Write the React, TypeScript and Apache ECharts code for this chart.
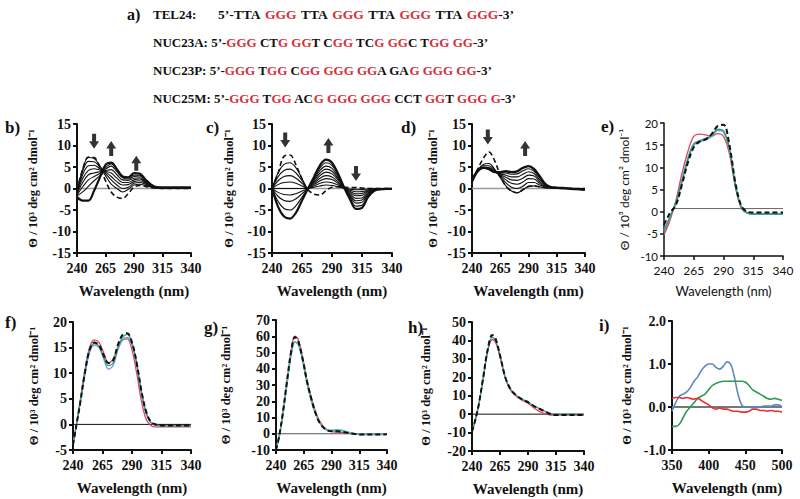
import React, { useEffect, useRef } from "react";
import * as echarts from "echarts";

// ---------- wavelengths ----------
const WL5 = [240, 245, 250, 255, 260, 265, 270, 275, 280, 285, 290, 295, 300, 305, 310, 315, 320, 325, 330, 335, 340];
const WL_E = [240, 245, 250, 255, 260, 265, 270, 275, 280, 285, 290, 295, 300, 305, 310, 315, 320, 330, 340];
const WL_F = [240, 243, 246, 250, 254, 258, 262, 266, 270, 274, 278, 282, 286, 290, 294, 298, 302, 306, 310, 315, 320, 330, 340];
const WL_G = [240, 243, 246, 250, 254, 257, 260, 264, 268, 272, 276, 280, 285, 290, 295, 300, 305, 310, 315, 320, 330, 340];
const WL_H = [240, 243, 246, 250, 254, 258, 261, 265, 270, 275, 280, 285, 290, 295, 300, 305, 310, 315, 320, 330, 340];
const WL_I = [350, 355, 360, 365, 370, 375, 380, 385, 390, 395, 400, 405, 410, 415, 420, 425, 430, 435, 440, 445, 450, 455, 460, 465, 470, 475, 480, 485, 490, 495, 500];

// ---------- panel b (TEL24 titration) ----------
const bDash = [-0.5, 4.5, 7.3, 7.2, 5.0, 1.8, -0.8, -2.0, -2.3, -1.2, 0.3, 0.7, 0.5, 0.2, 0.1, 0, 0, 0, 0, 0, 0];
const b1 = [-0.8, 4.5, 7.2, 7.0, 5.3, 3.0, 1.0, 0.0, -0.8, -0.2, 0.8, 1.0, 0.7, 0.3, 0.1, 0.1, 0.1, 0.1, 0.1, 0.1, 0.1];
const b2 = [-1.0, 4.0, 6.3, 6.2, 5.0, 3.5, 2.0, 0.8, 0.0, 0.3, 1.2, 1.4, 1.0, 0.4, 0.15, 0.1, 0.1, 0.1, 0.1, 0.1, 0.1];
const b3 = [-1.0, 3.2, 5.3, 5.4, 4.6, 3.8, 2.8, 1.6, 0.8, 0.9, 1.6, 1.8, 1.2, 0.5, 0.2, 0.15, 0.1, 0.1, 0.1, 0.1, 0.1];
const b4 = [-1.2, 2.3, 4.2, 4.6, 4.3, 4.0, 3.6, 2.4, 1.4, 1.4, 2.0, 2.2, 1.4, 0.6, 0.2, 0.15, 0.15, 0.15, 0.15, 0.15, 0.15];
const b5 = [-1.3, 1.4, 3.2, 3.6, 3.9, 4.2, 4.4, 3.2, 2.0, 1.9, 2.4, 2.5, 1.6, 0.7, 0.25, 0.2, 0.2, 0.2, 0.2, 0.2, 0.2];
const b6 = [-1.5, 0.4, 2.0, 2.8, 3.5, 4.5, 5.2, 3.9, 2.5, 2.2, 2.8, 2.9, 1.8, 0.8, 0.3, 0.2, 0.2, 0.2, 0.2, 0.2, 0.2];
const b7 = [-1.7, -0.8, 0.5, 1.8, 3.0, 4.8, 5.7, 4.4, 2.8, 2.5, 3.1, 3.1, 2.0, 0.9, 0.3, 0.25, 0.2, 0.2, 0.2, 0.2, 0.2];
const bFinal = [-2.0, -2.8, -2.8, -0.5, 2.5, 5.5, 6.0, 4.5, 2.8, 2.6, 3.6, 3.5, 2.1, 0.9, 0.3, 0.25, 0.25, 0.25, 0.25, 0.25, 0.25];
const bArrowsDown = [[255, 11]];
const bArrowsUp = [[270, 9.3], [292, 5.9]];

// ---------- panel c (NUC23A titration) ----------
const cDash = [0, 3.5, 7.5, 7.8, 5.5, 2.2, -0.3, -1.3, -1.5, -0.5, 0.3, 0.4, 0.3, 0.2, 0.2, 0.1, 0, 0, 0, 0, 0];
const c1 = [0, 3.6, 5.6, 6.0, 4.8, 2.4, 0, 0.3, 0.6, 0.8, 0.7, 0.4, 0.04, -0.15, -0.3, -0.27, -0.12, -0.04, 0, 0, 0];
const c2 = [0, 2.7, 4.2, 4.5, 3.6, 1.8, 0, 0.6, 1.2, 1.5, 1.35, 0.8, 0.1, -0.4, -0.76, -0.72, -0.32, -0.1, -0.03, -0.02, -0.02];
const c3 = [0, 1.8, 2.8, 3.0, 2.4, 1.2, 0, 0.9, 1.8, 2.3, 2.1, 1.2, 0.1, -0.65, -1.24, -1.17, -0.52, -0.16, -0.05, -0.03, -0.03];
const c4 = [0, 0.9, 1.4, 1.5, 1.2, 0.6, 0, 1.2, 2.4, 3.0, 2.7, 1.56, 0.15, -0.9, -1.7, -1.6, -0.72, -0.22, -0.07, -0.04, -0.04];
const c5 = [0, 0, 0, 0, 0, 0, 0, 1.5, 3.0, 3.8, 3.4, 2.0, 0.2, -1.2, -2.3, -2.2, -1.0, -0.3, -0.1, -0.05, -0.05];
const c6 = [0, -0.9, -1.4, -1.5, -1.2, -0.6, 0, 1.8, 3.6, 4.5, 4.0, 2.3, 0.2, -1.5, -2.85, -2.7, -1.2, -0.36, -0.12, -0.06, -0.06];
const c7 = [0, -1.8, -2.8, -3.0, -2.4, -1.2, 0, 2.1, 4.2, 5.2, 4.7, 2.7, 0.26, -1.8, -3.4, -3.2, -1.44, -0.43, -0.14, -0.07, -0.07];
const c8 = [0, -3.0, -4.65, -5.0, -4.0, -2.0, 0, 2.4, 4.8, 6.0, 5.4, 3.1, 0.3, -2.15, -4.1, -3.9, -1.7, -0.5, -0.17, -0.09, -0.09];
const cFinal = [0, -4.2, -6.5, -7.0, -5.6, -2.8, 0, 2.7, 5.4, 6.7, 6.0, 3.5, 0.3, -2.5, -4.75, -4.5, -2.0, -0.6, -0.2, -0.1, -0.1];
const cArrowsDown = [[251, 11.3], [310, 3.5]];
const cArrowsUp = [[287, 10]];

// ---------- panel d (NUC23P titration) ----------
const dDash = [2.2, 4.5, 7.0, 8.5, 6.5, 3.0, 0.5, -0.6, -1.0, -0.3, 0.5, 0.6, 0.4, 0.2, 0.1, 0.05, 0, 0, 0, 0, 0];
const d1 = [2.0, 4.2, 5.6, 5.8, 4.5, 2.5, 0.6, -0.6, -1.0, -0.3, 0.5, 0.6, 0.4, 0.2, 0.1, 0.05, 0, 0, 0, 0, 0];
const d2 = [2.0, 4.3, 5.3, 5.3, 4.3, 2.8, 1.3, 0.3, 0.0, 0.5, 1.4, 1.4, 0.8, 0.3, 0.1, 0.05, 0, 0, 0, 0, 0];
const d3 = [2.0, 4.3, 5.0, 4.9, 4.1, 3.0, 2.0, 1.2, 1.0, 1.5, 2.3, 2.2, 1.2, 0.4, 0.15, 0.05, 0, 0, 0, 0, 0];
const d4 = [1.9, 4.2, 4.9, 4.7, 4.0, 3.2, 2.6, 2.0, 1.9, 2.4, 3.1, 2.9, 1.6, 0.6, 0.2, 0.1, 0, 0, 0, -0.1, -0.1];
const d5 = [1.8, 4.1, 4.8, 4.6, 3.9, 3.4, 3.1, 2.7, 2.7, 3.3, 3.9, 3.5, 2.0, 0.8, 0.25, 0.1, 0, 0, -0.1, -0.1, -0.2];
const d6 = [1.7, 4.0, 4.8, 4.5, 3.8, 3.6, 3.6, 3.3, 3.4, 4.1, 4.6, 4.0, 2.5, 0.9, 0.3, 0.15, 0.05, 0, -0.1, -0.2, -0.2];
const dFinal = [1.6, 4.0, 4.8, 4.5, 3.8, 3.8, 4.0, 3.8, 4.0, 4.8, 5.2, 4.5, 2.8, 1.0, 0.3, 0.2, 0.1, 0, -0.1, -0.2, -0.3];
const dArrowsDown = [[254, 12]];
const dArrowsUp = [[287, 9.3]];

// ---------- panel e ----------
const eRed = [-5.2, -2, 2.5, 8.5, 13.5, 17, 17.5, 17.3, 17, 17.6, 17, 13, 5.5, 0.8, -0.3, -0.5, -0.5, -0.5, -0.5];
const eBlue = [-4.2, -1.2, 1.8, 6.5, 11.5, 15, 15.8, 16.2, 17, 18.3, 18, 14, 6, 1, -0.3, -0.5, -0.5, -0.5, -0.5];
const eGreen = [-4.5, -1.2, 2, 7, 12, 15.3, 16, 16.5, 17.2, 18.6, 18.2, 14.2, 6, 1, -0.3, -0.5, -0.5, -0.5, -0.5];
const eDash = [-3, -0.3, 1.5, 6, 11, 14.5, 15.8, 16.3, 17.5, 19.3, 19.6, 15, 6.5, 1.3, 0, -0.2, -0.2, -0.2, -0.2];
const eBaseline = 0.7;

// ---------- panel f ----------
const fRed = [-4, 0.2, 4.5, 10.5, 15, 16.5, 16, 14, 12, 12.8, 15, 16.5, 16.7, 14.5, 10, 4.5, 1, -0.2, -0.5, -0.5, -0.5, -0.5, -0.5];
const fBlue = [-4, 0, 4, 9.5, 14, 15.5, 15, 12.8, 10.8, 11.5, 14.5, 16.5, 17, 15.5, 11.5, 6, 2, 0.3, -0.2, -0.3, -0.3, -0.3, -0.3];
const fGreen = [-4, 0, 4.2, 10, 14.5, 15.8, 15.3, 13.2, 11.5, 12, 15, 17, 17.6, 16, 12, 6.5, 2.3, 0.4, -0.1, -0.3, -0.3, -0.3, -0.3];
const fDash = [-4, 0, 4, 10, 14.5, 16, 15.5, 13.5, 12, 12.5, 15.5, 17.5, 17.8, 16, 12, 6.5, 2.5, 0.5, 0, -0.2, -0.2, -0.2, -0.2];

// ---------- panel g ----------
const gRed = [-10, -1, 12, 33, 53, 60, 58, 47, 33, 22, 13, 7, 3, 1.5, 1, 0.8, 0.3, 0, -0.5, -0.5, -0.5, -0.3];
const gBlue = [-10, -1.5, 11, 31, 50, 56.5, 55, 45, 31, 20, 11.5, 6, 2.5, 2, 2.3, 1.8, 0.8, 0.1, -0.3, -0.3, -0.3, -0.3];
const gGreen = [-10, -1.5, 11, 31, 50, 56.5, 55, 45, 31, 20, 11.5, 6, 2.5, 2, 2.5, 2, 1, 0.2, -0.3, -0.3, -0.3, -0.3];
const gDash = [-10, -1, 12, 33, 52, 59.5, 57, 46, 32, 21, 12, 6, 2.5, 1.5, 1.5, 1.2, 0.5, 0, -0.5, -0.5, -0.5, -0.3];

// ---------- panel h ----------
const hRed = [-9.5, -3, 5, 19, 34, 40.5, 39, 31, 19, 12.5, 9.5, 7.5, 6, 3.5, 1.5, 0.2, -0.5, -0.5, -0.5, -0.5, -0.5];
const hGreen = [-9.5, -3, 5, 19.5, 34.5, 41.8, 40, 32, 19.5, 13, 10, 8, 6.5, 4.5, 3, 1.5, 0.5, 0, 0, 0, 0];
const hDash = [-9.5, -3, 5, 20, 35, 43, 41, 32, 19.5, 13, 10, 8, 6.5, 4.5, 3, 1.5, 0, -0.5, -0.5, -0.5, -0.5];

// ---------- panel i ----------
const iBlue = [-0.1, 0.1, 0.25, 0.3, 0.35, 0.45, 0.6, 0.7, 0.85, 0.95, 1.0, 1.0, 0.92, 0.88, 0.95, 1.05, 1.0, 0.7, 0.3, 0.05, 0, 0, 0, 0, 0, 0.02, 0.02, 0.02, 0.05, 0.05, 0];
const iGreen = [-0.45, -0.45, -0.4, -0.25, -0.1, 0, 0.1, 0.2, 0.25, 0.3, 0.4, 0.5, 0.55, 0.58, 0.6, 0.6, 0.6, 0.6, 0.6, 0.6, 0.58, 0.5, 0.4, 0.35, 0.3, 0.25, 0.2, 0.18, 0.2, 0.18, 0.15];
const iRed = [0.2, 0.22, 0.22, 0.2, 0.22, 0.2, 0.18, 0.2, 0.15, 0.1, 0.05, -0.02, -0.05, -0.02, -0.05, -0.05, -0.08, -0.1, -0.1, -0.12, -0.12, -0.1, -0.05, -0.05, -0.08, -0.08, -0.1, -0.08, -0.1, -0.1, -0.12];

// ---------- sequences (panel a) ----------
const seqLabels = ["a)"];
const seqRows = [
  "TEL24:",
  "{k|NUC23A: 5’-}{r|GGG}{k| CT}{r|G GG}{k|T C}{r|GG}{k| TC}{r|G GG}{k|C T}{r|GG GG}{k|-3’}",
  "{k|NUC23P: 5’-}{r|GGG}{k| T}{r|GG}{k| C}{r|GG GGG GG}{k|A GA}{r|G GGG GG}{k|-3’}",
  "{k|NUC25M: 5’-}{r|GGG}{k| T}{r|GG}{k| AC}{r|G GGG GGG}{k| CCT }{r|GG}{k|T }{r|GGG G}{k|-3’}",
];
const tel24Seq = "{k|5’-TTA\u2004}{r|GGG}{k|\u2004TTA\u2004}{r|GGG}{k|\u2004TTA\u2004}{r|GGG}{k|\u2004TTA\u2004}{r|GGG}{k|-3’}";
const panelLetters = ["b)", "c)", "d)", "e)", "f)", "g)", "h)", "i)"];

const Y_NAME = "Θ / 10³ deg cm² dmol⁻¹";
const X_NAME = "Wavelength (nm)";

const RED = "#e5435a";
const BLUE = "#6f9bd6";
const TEAL = "#2a9f86";
const SEQ_RED = "#d6303a";

function pairs(xs: number[], ys: number[]) {
  return xs.map((x, i) => [x, ys[i]]);
}

const ARROW_DOWN = "path://M3,0L7,0L7,8L10,8L5,16L0,8L3,8Z";
const ARROW_UP = "path://M5,0L10,8L7,8L7,16L3,16L3,8L0,8Z";

export default function App() {
  const ref = useRef<HTMLDivElement>(null);
  useEffect(() => {
    if (!ref.current) return;
    const chart = echarts.init(ref.current, null, { renderer: "svg" });
    const serif = "Liberation Serif";
    const sans = "Lato";

    const grids = [
      { left: 77, top: 124, width: 114, height: 129 },
      { left: 272, top: 124, width: 120, height: 129 },
      { left: 472, top: 124, width: 113, height: 129 },
      { left: 664, top: 123, width: 119, height: 133 },
      { left: 73, top: 322, width: 118, height: 128 },
      { left: 276, top: 320, width: 111, height: 130 },
      { left: 472, top: 322, width: 112, height: 129 },
      { left: 672, top: 321, width: 110, height: 129 },
    ];
    const yRanges = [
      [-15, 15, 5], [-15, 15, 5], [-15, 15, 5], [-10, 20, 5],
      [-5, 20, 5], [-10, 70, 10], [-20, 50, 10], [-1, 2, 1],
    ];
    const yNameGaps = [38, 37, 33, 34, 33, 44, 40, 39];

    const xAxis: any[] = [];
    const yAxis: any[] = [];
    grids.forEach((g, k) => {
      const isE = k === 3;
      const isI = k === 7;
      const ff = isE ? sans : serif;
      const fw = isE ? "normal" : "bold";
      const lw = isE ? 1.5 : 2;
      const axisLine = { show: true, onZero: false, lineStyle: { color: "#111", width: lw } };
      const axisTick = { show: true, inside: false, length: 4, lineStyle: { color: "#111", width: lw } };
      xAxis.push({
        type: "value",
        gridIndex: k,
        min: isI ? 350 : 240,
        max: isI ? 500 : 340,
        interval: isI ? 50 : 25,
        axisLine,
        axisTick,
        splitLine: { show: false },
        axisLabel: { color: "#111", fontFamily: ff, fontWeight: fw, fontSize: isE ? 12 : 14, margin: 8 },
        name: X_NAME,
        nameLocation: "middle",
        nameGap: isE ? 28 : 30,
        nameTextStyle: { color: "#111", fontFamily: ff, fontWeight: fw, fontSize: isE ? 13 : 15 },
      });
      const [mn, mx, iv] = yRanges[k];
      yAxis.push({
        type: "value",
        gridIndex: k,
        min: mn,
        max: mx,
        interval: iv,
        axisLine,
        axisTick,
        splitLine: { show: false },
        axisLabel: {
          color: "#111",
          fontFamily: ff,
          fontWeight: fw,
          fontSize: isE ? 11.5 : 14,
          margin: 6,
          formatter: isI ? (v: number) => v.toFixed(1) : undefined,
        },
        name: Y_NAME,
        nameLocation: "middle",
        nameGap: yNameGaps[k],
        nameTextStyle: { color: "#111", fontFamily: ff, fontWeight: fw, fontSize: isE ? 12 : 12.5 },
      });
    });

    const series: any[] = [];
    const zero = (k: number, x0: number, x1: number, y: number, color: string, width: number) =>
      series.push({
        type: "line", xAxisIndex: k, yAxisIndex: k, data: [[x0, y], [x1, y]],
        symbol: "none", lineStyle: { color, width }, z: 1, silent: true,
      });
    const line = (k: number, xs: number[], ys: number[], color: string, width: number, dashed = false) =>
      series.push({
        type: "line", xAxisIndex: k, yAxisIndex: k, data: pairs(xs, ys), smooth: 0.35,
        symbol: "none", lineStyle: { color, width, type: dashed ? [5, 3] : "solid" }, z: 3,
      });
    const arrows = (k: number, pts: number[][], sym: string) =>
      series.push({
        type: "scatter", xAxisIndex: k, yAxisIndex: k, data: pts, symbol: sym,
        symbolSize: [10, 15], itemStyle: { color: "#000" }, z: 5,
      });

    // b
    zero(0, 240, 340, 0, "#9a9a9a", 1.5);
    [b1, b2, b3, b4, b5, b6, b7].forEach((s) => line(0, WL5, s, "#111", 1.1));
    line(0, WL5, bFinal, "#111", 2.2);
    line(0, WL5, bDash, "#111", 1.6, true);
    arrows(0, bArrowsDown, ARROW_DOWN);
    arrows(0, bArrowsUp, ARROW_UP);
    // c
    zero(1, 240, 340, 0, "#9a9a9a", 1.5);
    [c1, c2, c3, c4, c5, c6, c7, c8].forEach((s) => line(1, WL5, s, "#111", 1.1));
    line(1, WL5, cFinal, "#111", 2.2);
    line(1, WL5, cDash, "#111", 1.6, true);
    arrows(1, cArrowsDown, ARROW_DOWN);
    arrows(1, cArrowsUp, ARROW_UP);
    // d
    zero(2, 240, 340, 0, "#9a9a9a", 1.5);
    [d1, d2, d3, d4, d5, d6].forEach((s) => line(2, WL5, s, "#111", 1.1));
    line(2, WL5, dFinal, "#111", 2.4);
    line(2, WL5, dDash, "#111", 1.6, true);
    arrows(2, dArrowsDown, ARROW_DOWN);
    arrows(2, dArrowsUp, ARROW_UP);
    // e
    zero(3, 247, 340, eBaseline, "#666", 1);
    line(3, WL_E, eRed, RED, 1.3);
    line(3, WL_E, eBlue, BLUE, 1.5);
    line(3, WL_E, eGreen, TEAL, 1.5);
    line(3, WL_E, eDash, "#111", 2, true);
    // f
    zero(4, 240, 340, 0, "#111", 1);
    line(4, WL_F, fRed, RED, 1.3);
    line(4, WL_F, fBlue, BLUE, 1.3);
    line(4, WL_F, fGreen, TEAL, 1.3);
    line(4, WL_F, fDash, "#111", 2, true);
    // g
    zero(5, 240, 340, 0, "#555", 1.2);
    line(5, WL_G, gRed, RED, 1.3);
    line(5, WL_G, gBlue, BLUE, 1.3);
    line(5, WL_G, gGreen, "#3fbfa8", 1.3);
    line(5, WL_G, gDash, "#111", 2, true);
    // h
    zero(6, 240, 340, 0, "#111", 1);
    line(6, WL_H, hRed, RED, 1.3);
    line(6, WL_H, hGreen, TEAL, 1.3);
    line(6, WL_H, hDash, "#111", 2, true);
    // i
    zero(7, 350, 500, 0, "#777", 2);
    line(7, WL_I, iBlue, "#5f86c6", 1.6);
    line(7, WL_I, iGreen, "#2f9a55", 1.6);
    line(7, WL_I, iRed, "#e0302f", 1.6);

    const letterPos = [
      [5, 127], [206, 127], [401, 127], [601, 126],
      [5, 322], [204, 327], [408, 327], [599, 325],
    ];
    const graphics: any[] = [];
    panelLetters.forEach((t, i) => {
      graphics.push({
        type: "text",
        x: letterPos[i][0],
        y: letterPos[i][1],
        style: {
          text: t,
          fontFamily: serif, fontWeight: "bold", fontSize: 17,
          fill: "#111",
          verticalAlign: "middle",
        },
      });
    });
    const rowY = [14, 42, 70, 98];
    graphics.push({
      type: "text", x: 127, y: rowY[0],
      style: { text: seqLabels[0], fontFamily: serif, fontWeight: "bold", fontSize: 16, fill: "#111", verticalAlign: "middle" },
    });
    const mkRich = (fs: number) => ({
      k: { fill: "#111", color: "#111", fontFamily: serif, fontWeight: "bold", fontSize: fs },
      r: { fill: SEQ_RED, color: SEQ_RED, fontFamily: serif, fontWeight: "bold", fontSize: fs },
    });
    const base = (fs: number) => ({ fontFamily: serif, fontWeight: "bold", fontSize: fs, fill: "#111", verticalAlign: "middle" });
    graphics.push({ type: "text", x: 153, y: rowY[0], style: { ...base(13), text: seqRows[0] } });
    graphics.push({ type: "text", x: 218, y: rowY[0], style: { ...base(13.5), text: tel24Seq, rich: mkRich(13.5) } });
    for (let r = 1; r < 4; r++) {
      graphics.push({ type: "text", x: 153, y: rowY[r], style: { ...base(13), text: seqRows[r], rich: mkRich(13) } });
    }

    chart.setOption({
      animation: false,
      backgroundColor: "#fff",
      textStyle: { fontFamily: serif },
      grid: grids,
      xAxis,
      yAxis,
      series,
      graphic: graphics,
    });
    return () => chart.dispose();
  }, []);
  return (
    <div
      ref={ref}
      style={{ position: "fixed", left: 0, top: 0, width: 800, height: 499, background: "#fff" }}
    />
  );
}
